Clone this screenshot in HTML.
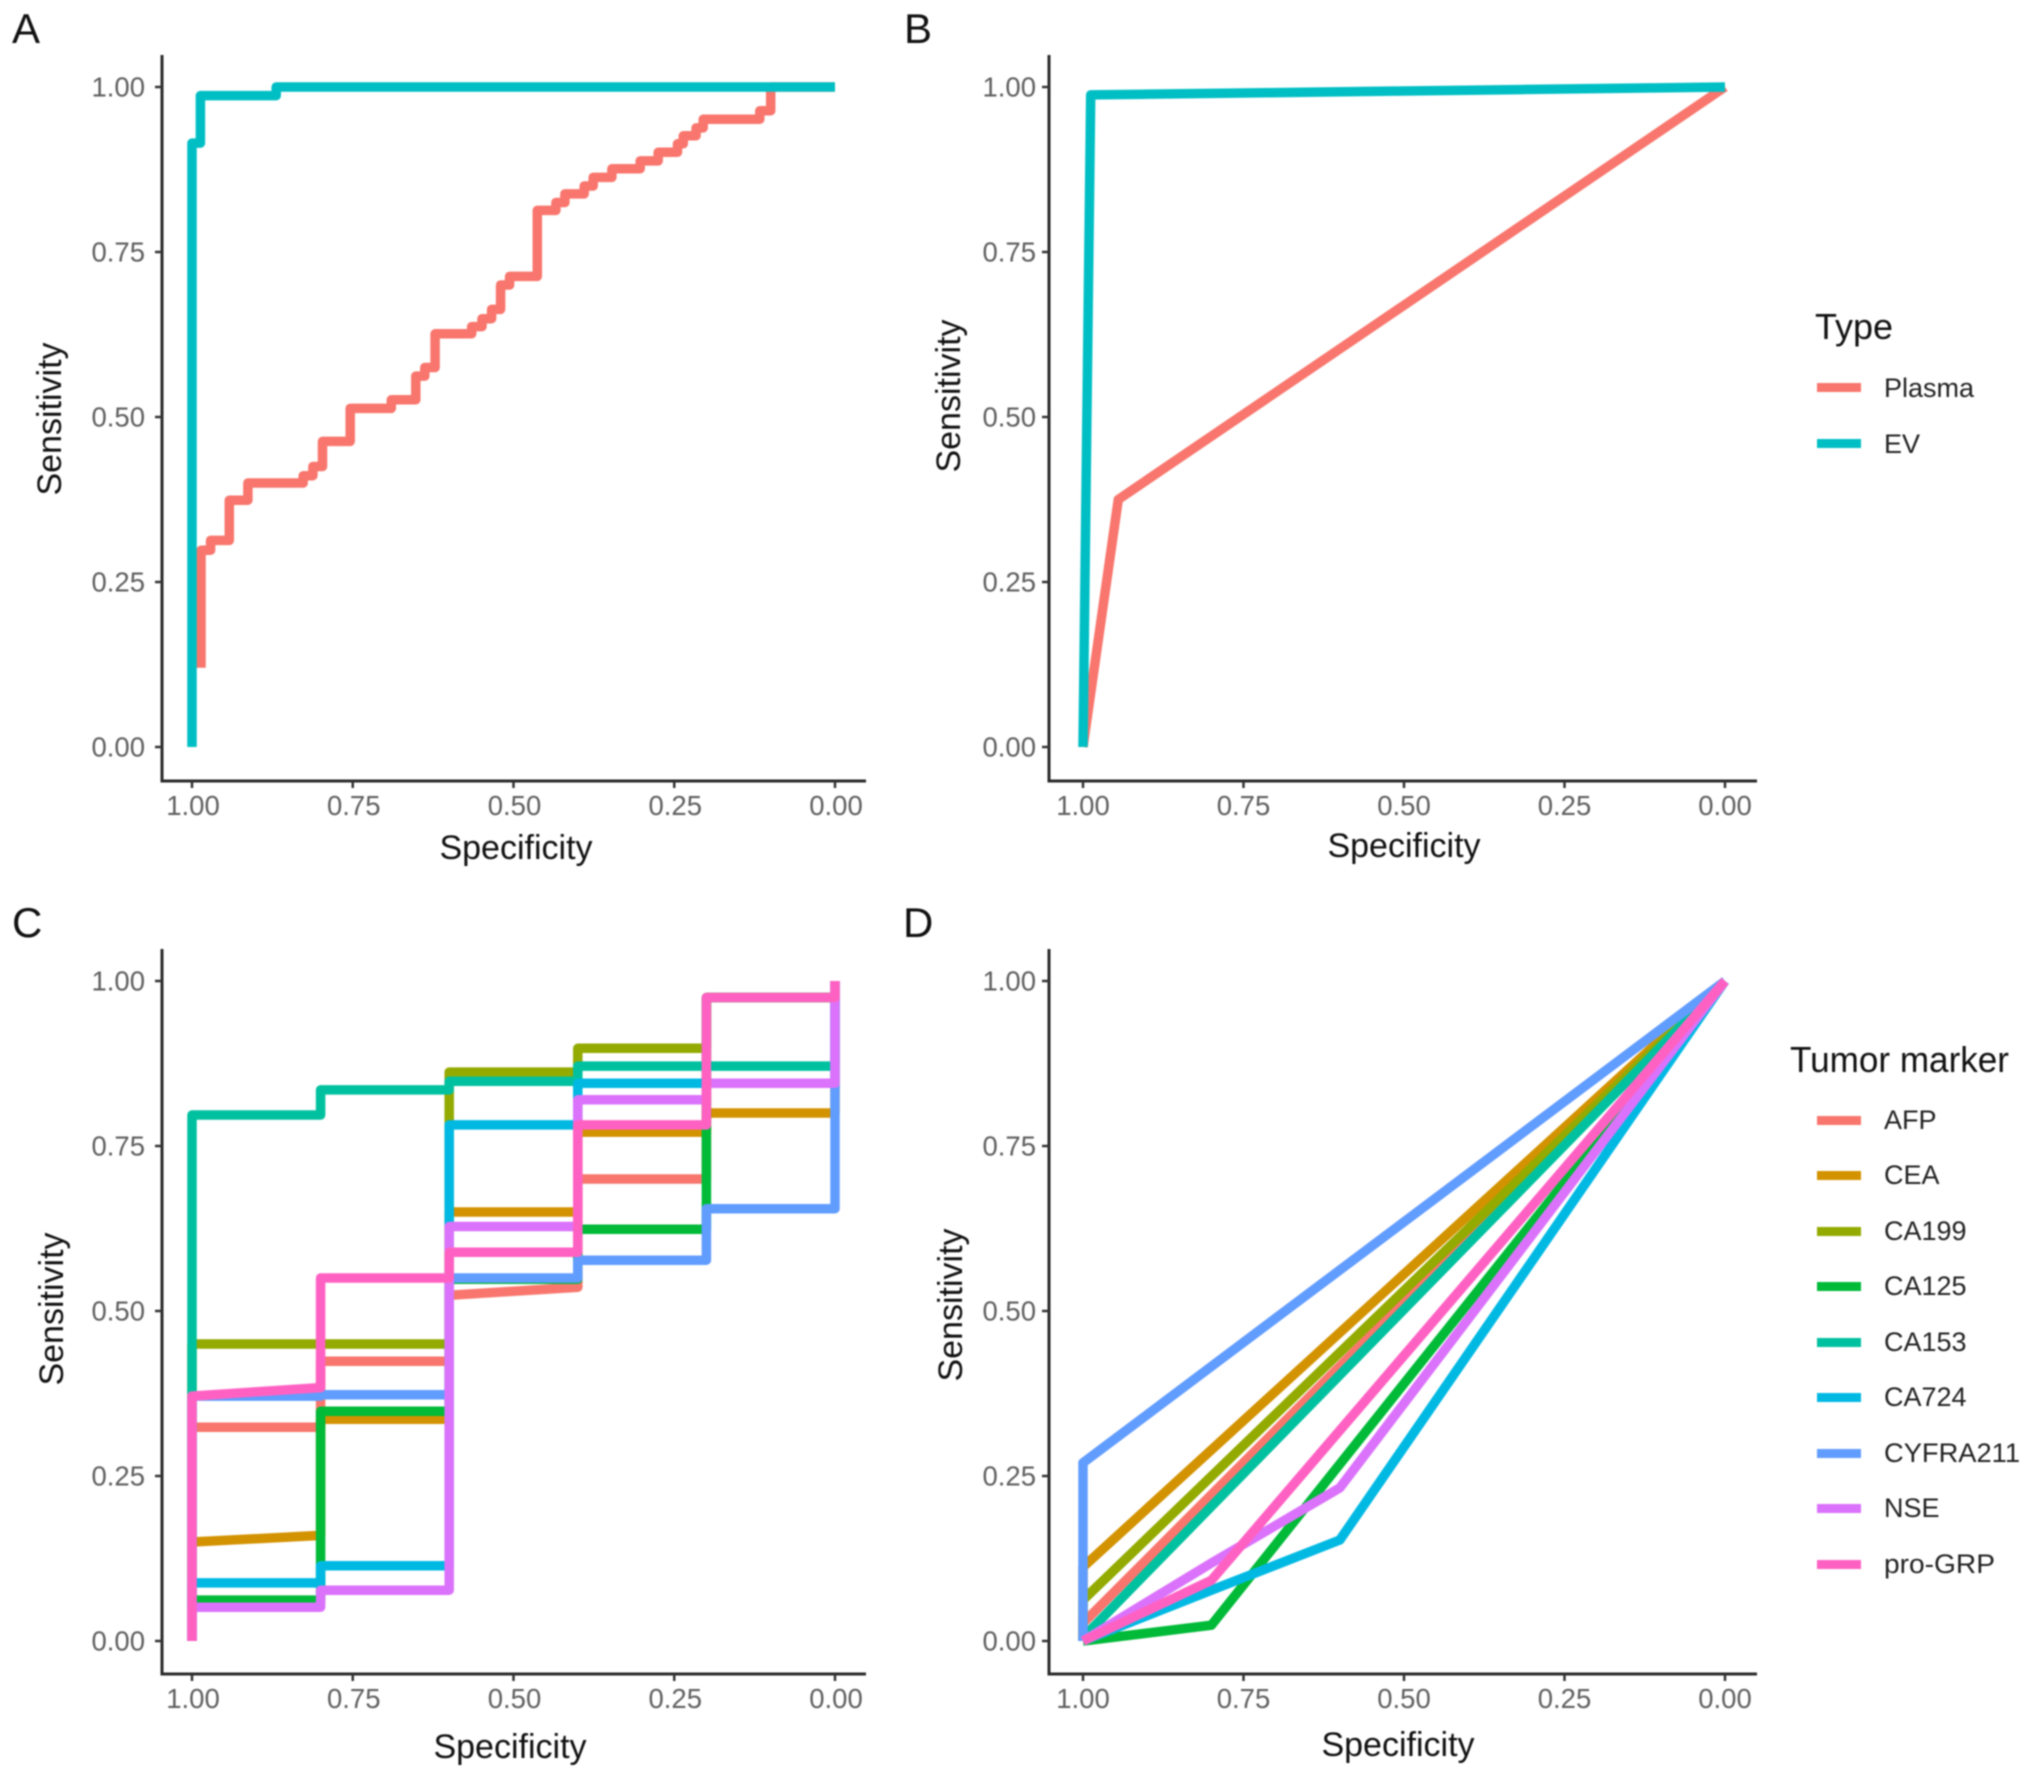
<!DOCTYPE html>
<html lang="en">
<head>
<meta charset="utf-8">
<title>ROC curves: plasma vs EV and tumor markers</title>
<style>
html,body{margin:0;padding:0;background:#fff;width:2031px;height:1778px;overflow:hidden}
svg{display:block;font-family:"Liberation Sans",Arial,sans-serif;filter:blur(.7px)}
.tick{font-size:27.5px;fill:#5f5f5f}
.axt{font-size:34px;fill:#111}
.leg{font-size:27px;fill:#222}
.legt{font-size:36px;fill:#111}
.pl{font-size:42px;fill:#111}
</style>
</head>
<body>
<svg id="fig" xmlns="http://www.w3.org/2000/svg" width="2031" height="1778" viewBox="0 0 2031 1778">
  <rect width="2031" height="1778" fill="#fff"/>

  <text class="pl" x="12" y="43">A</text>
  <text class="pl" x="904" y="43">B</text>
  <text class="pl" x="12" y="937">C</text>
  <text class="pl" x="903" y="937">D</text>

  <text class="axt" x="516" y="859" text-anchor="middle">Specificity</text>
  <text class="axt" transform="translate(61,419) rotate(-90)" text-anchor="middle">Sensitivity</text>
  <text class="axt" x="1404" y="857" text-anchor="middle">Specificity</text>
  <text class="axt" transform="translate(960,396) rotate(-90)" text-anchor="middle">Sensitivity</text>
  <text class="axt" x="510" y="1758" text-anchor="middle">Specificity</text>
  <text class="axt" transform="translate(63,1309) rotate(-90)" text-anchor="middle">Sensitivity</text>
  <text class="axt" x="1398" y="1756" text-anchor="middle">Specificity</text>
  <text class="axt" transform="translate(962,1305) rotate(-90)" text-anchor="middle">Sensitivity</text>

  <g>
    <text class="legt" x="1815" y="339">Type</text>
    <rect x="1817" y="383" width="44" height="9" fill="#F8766D"/>
    <text class="leg" x="1884" y="397">Plasma</text>
    <rect x="1817" y="439" width="44" height="9" fill="#00BFC4"/>
    <text class="leg" x="1884" y="453">EV</text>
  </g>

  <g>
    <text class="legt" x="1790" y="1072" textLength="219" lengthAdjust="spacingAndGlyphs">Tumor marker</text>
    <rect x="1817" y="1116" width="44" height="9" fill="#F8766D"/>
    <text class="leg" x="1884" y="1129">AFP</text>
    <rect x="1817" y="1171" width="44" height="9" fill="#D39200"/>
    <text class="leg" x="1884" y="1184">CEA</text>
    <rect x="1817" y="1227" width="44" height="9" fill="#93AA00"/>
    <text class="leg" x="1884" y="1240">CA199</text>
    <rect x="1817" y="1282" width="44" height="9" fill="#00BA38"/>
    <text class="leg" x="1884" y="1295">CA125</text>
    <rect x="1817" y="1338" width="44" height="9" fill="#00C19F"/>
    <text class="leg" x="1884" y="1351">CA153</text>
    <rect x="1817" y="1393" width="44" height="9" fill="#00B9E3"/>
    <text class="leg" x="1884" y="1406">CA724</text>
    <rect x="1817" y="1449" width="44" height="9" fill="#619CFF"/>
    <text class="leg" x="1884" y="1462" textLength="136" lengthAdjust="spacingAndGlyphs">CYFRA211</text>
    <rect x="1817" y="1504" width="44" height="9" fill="#DB72FB"/>
    <text class="leg" x="1884" y="1517">NSE</text>
    <rect x="1817" y="1560" width="44" height="9" fill="#FF61C3"/>
    <text class="leg" x="1884" y="1573" textLength="111" lengthAdjust="spacingAndGlyphs">pro-GRP</text>
  </g>
</svg>

<script>
// Axis ticks
const tickValues = [1, 0.75, 0.5, 0.25, 0];
const tickLabels = ['1.00', '0.75', '0.50', '0.25', '0.00'];

// Panel A
const aPlasmaSpec = [0.986,0.986,0.971,0.971,0.942,0.942,0.913,0.913,0.827,0.827,0.812,0.812,0.797,0.797,0.754,0.754,0.69,0.69,0.652,0.652,0.638,0.638,0.622,0.622,0.565,0.565,0.549,0.549,0.534,0.534,0.52,0.52,0.506,0.506,0.463,0.463,0.434,0.434,0.42,0.42,0.39,0.39,0.376,0.376,0.347,0.347,0.303,0.303,0.275,0.275,0.245,0.245,0.236,0.236,0.216,0.216,0.205,0.205,0.117,0.117,0.1,0.1,0];
const aPlasmaSens = [0.12,0.298,0.298,0.313,0.313,0.374,0.374,0.4,0.4,0.411,0.411,0.425,0.425,0.463,0.463,0.513,0.513,0.526,0.526,0.562,0.562,0.575,0.575,0.626,0.626,0.637,0.637,0.649,0.649,0.663,0.663,0.7,0.7,0.713,0.713,0.813,0.813,0.825,0.825,0.838,0.838,0.85,0.85,0.863,0.863,0.876,0.876,0.888,0.888,0.901,0.901,0.914,0.914,0.926,0.926,0.938,0.938,0.951,0.951,0.964,0.964,1,1];
const aEvSpec = [1,1,0.987,0.987,0.869,0.869,0];
const aEvSens = [0,0.915,0.915,0.987,0.987,1,1];

// Panel B
const bPlasmaSpec = [1,0.945,0];
const bPlasmaSens = [0,0.375,1];
const bEvSpec = [1,0.988,0];
const bEvSens = [0,0.988,1];

// Panel C
const cSpec = [1,1,0.8,0.8,0.6,0.6,0.4,0.4,0.2,0.2,0,0];
const cAfp = [0,0.324,0.324,0.424,0.424,0.524,0.536,0.7,0.7,0.975,0.975,1];
const cCea = [0,0.15,0.16,0.336,0.336,0.65,0.65,0.771,0.771,0.8,0.8,1];
const cCa199 = [0,0.45,0.45,0.45,0.45,0.862,0.862,0.898,0.898,0.975,0.975,1];
const cCa125 = [0,0.062,0.062,0.348,0.348,0.548,0.548,0.624,0.624,0.975,0.975,1];
const cCa153 = [0,0.797,0.797,0.835,0.835,0.848,0.848,0.871,0.871,0.871,0.871,1];
const cCa724 = [0,0.088,0.088,0.114,0.114,0.782,0.782,0.845,0.845,0.845,0.845,1];
const cCyfra211 = [0,0.371,0.371,0.373,0.373,0.55,0.55,0.577,0.577,0.655,0.655,1];
const cNse = [0,0.051,0.051,0.077,0.077,0.628,0.628,0.82,0.82,0.845,0.845,1];
const cProGrp = [0,0.371,0.384,0.55,0.55,0.589,0.589,0.782,0.782,0.975,0.975,1];

// Panel D
const dAfpSpec = [1,1,0];
const dAfpSens = [0,0.027,1];
const dCeaSpec = [1,1,0];
const dCeaSens = [0,0.112,1];
const dCa199Spec = [1,1,0];
const dCa199Sens = [0,0.062,1];
const dCa125Spec = [1,0.8,0];
const dCa125Sens = [0,0.024,1];
const dCa153Spec = [1,1,0];
const dCa153Sens = [0,0.005,1];
const dCa724Spec = [1,0.8,0.6,0];
const dCa724Sens = [0,0.077,0.153,1];
const dCyfra211Spec = [1,1,0];
const dCyfra211Sens = [0,0.27,1];
const dNseSpec = [1,0.8,0.6,0];
const dNseSens = [0,0.118,0.232,1];
const dProGrpSpec = [1,0.8,0];
const dProGrpSens = [0,0.092,1];

const NS = 'http://www.w3.org/2000/svg';
const fig = document.getElementById('fig');
const LINE_W = 9.5;

function svgEl(tag, attrs, parent) {
  const el = document.createElementNS(NS, tag);
  for (const k in attrs) el.setAttribute(k, attrs[k]);
  parent.appendChild(el);
  return el;
}

function makeAxes(key, frame) {
  const xScale = function (v) { return frame.xOne + (1 - v) * (frame.xZero - frame.xOne); };
  const yScale = function (v) { return frame.yZero - v * (frame.yZero - frame.yOne); };
  const g = svgEl('g', {}, fig);
  
  

  const yAxis = svgEl('line', {x1: frame.left, x2: frame.left, y1: frame.top, y2: frame.bottom + 1.5, stroke: '#2a2a2a', 'stroke-width': 3}, g);
  
  
  const xAxis = svgEl('line', {x1: frame.left - 1.5, x2: frame.right, y1: frame.bottom, y2: frame.bottom, stroke: '#2a2a2a', 'stroke-width': 3}, g);
  
  

  tickValues.forEach(function (v, i) {
    const tx = svgEl('line', {x1: xScale(v), x2: xScale(v), y1: frame.bottom, y2: frame.bottom + 7, stroke: '#333', 'stroke-width': 2.5}, g);
    
    
    const lx = svgEl('text', {x: xScale(v) + frame.xLabelShift, y: frame.bottom + 34, 'text-anchor': 'middle', 'class': 'tick'}, g);
    
    
    lx.textContent = tickLabels[i];
    const ty = svgEl('line', {x1: frame.left - 7, x2: frame.left, y1: yScale(v), y2: yScale(v), stroke: '#333', 'stroke-width': 2.5}, g);
    
    
    const ly = svgEl('text', {x: frame.left - frame.yLabelGap, y: yScale(v) + 9.5, 'text-anchor': 'end', 'class': 'tick'}, g);
    
    
    ly.textContent = tickLabels[i];
  });
  return {g: g, xScale: xScale, yScale: yScale};
}

function drawSeries(axes, key, name, color, specs, sens) {
  const pts = specs.map(function (s, i) {
    return axes.xScale(s).toFixed(1) + ',' + axes.yScale(sens[i]).toFixed(1);
  }).join(' ');
  const line = svgEl('polyline', {points: pts, fill: 'none', stroke: color, 'stroke-width': LINE_W, 'stroke-linejoin': 'round', 'stroke-linecap': 'butt'}, axes.g);
  
  
}

const axA = makeAxes('a', {left: 162, right: 866, top: 55, bottom: 781, xOne: 192, xZero: 835, yOne: 87, yZero: 747, xLabelShift: 1, yLabelGap: 17});
drawSeries(axA, 'a', 'plasma', '#F8766D', aPlasmaSpec, aPlasmaSens);
drawSeries(axA, 'a', 'ev', '#00BFC4', aEvSpec, aEvSens);

const axB = makeAxes('b', {left: 1049, right: 1757, top: 55, bottom: 781, xOne: 1083, xZero: 1725, yOne: 87, yZero: 747, xLabelShift: 0, yLabelGap: 13});
drawSeries(axB, 'b', 'plasma', '#F8766D', bPlasmaSpec, bPlasmaSens);
drawSeries(axB, 'b', 'ev', '#00BFC4', bEvSpec, bEvSens);

const axC = makeAxes('c', {left: 162, right: 866, top: 949, bottom: 1674, xOne: 192, xZero: 835, yOne: 981, yZero: 1641, xLabelShift: 1, yLabelGap: 17});
drawSeries(axC, 'c', 'afp', '#F8766D', cSpec, cAfp);
drawSeries(axC, 'c', 'cea', '#D39200', cSpec, cCea);
drawSeries(axC, 'c', 'ca199', '#93AA00', cSpec, cCa199);
drawSeries(axC, 'c', 'ca125', '#00BA38', cSpec, cCa125);
drawSeries(axC, 'c', 'ca153', '#00C19F', cSpec, cCa153);
drawSeries(axC, 'c', 'ca724', '#00B9E3', cSpec, cCa724);
drawSeries(axC, 'c', 'cyfra211', '#619CFF', cSpec, cCyfra211);
drawSeries(axC, 'c', 'nse', '#DB72FB', cSpec, cNse);
drawSeries(axC, 'c', 'pro-grp', '#FF61C3', cSpec, cProGrp);

const axD = makeAxes('d', {left: 1049, right: 1757, top: 949, bottom: 1674, xOne: 1083, xZero: 1725, yOne: 981, yZero: 1641, xLabelShift: 0, yLabelGap: 13});
drawSeries(axD, 'd', 'afp', '#F8766D', dAfpSpec, dAfpSens);
drawSeries(axD, 'd', 'cea', '#D39200', dCeaSpec, dCeaSens);
drawSeries(axD, 'd', 'ca199', '#93AA00', dCa199Spec, dCa199Sens);
drawSeries(axD, 'd', 'ca125', '#00BA38', dCa125Spec, dCa125Sens);
drawSeries(axD, 'd', 'ca153', '#00C19F', dCa153Spec, dCa153Sens);
drawSeries(axD, 'd', 'ca724', '#00B9E3', dCa724Spec, dCa724Sens);
drawSeries(axD, 'd', 'cyfra211', '#619CFF', dCyfra211Spec, dCyfra211Sens);
drawSeries(axD, 'd', 'nse', '#DB72FB', dNseSpec, dNseSens);
drawSeries(axD, 'd', 'pro-grp', '#FF61C3', dProGrpSpec, dProGrpSens);
</script>
</body>
</html>
